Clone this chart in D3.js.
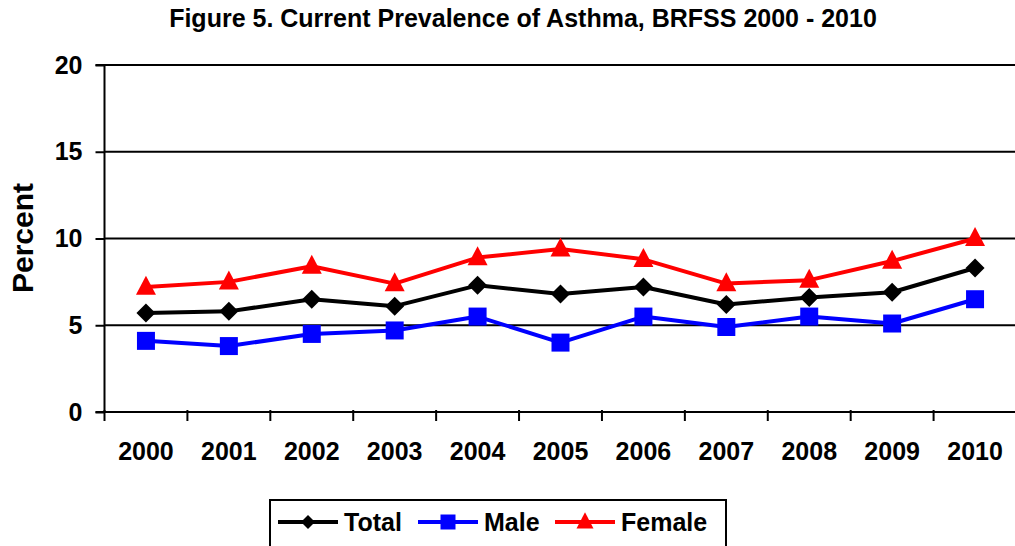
<!DOCTYPE html>
<html><head><meta charset="utf-8">
<script src="https://cdn.jsdelivr.net/npm/d3@7"></script>
<style>body{margin:0;background:#fff}svg{display:block;font-family:"Liberation Sans",Arial,sans-serif;font-weight:bold}</style>
</head><body><svg id="c" width="1015" height="546"></svg>
<script>
const years = ["2000","2001","2002","2003","2004","2005","2006","2007","2008","2009","2010"];
const total = [5.7,5.8,6.5,6.1,7.3,6.8,7.2,6.2,6.6,6.9,8.3];
const male = [4.1,3.8,4.5,4.7,5.5,4.0,5.5,4.9,5.5,5.1,6.5];
const female = [7.2,7.5,8.4,7.4,8.9,9.4,8.8,7.4,7.6,8.7,10.0];
const yTicks = [0,5,10,15,20];
const seriesNames = ["Total","Male","Female"];
const seriesColors = ["#000000","#0000ff","#ff0000"];
const seriesValues = [total, male, female];

// custom marker shapes; "size" here is the marker width in px
const diamond = {draw(ctx, w){const r=w/2; ctx.moveTo(0,-r); ctx.lineTo(r,0); ctx.lineTo(0,r); ctx.lineTo(-r,0); ctx.closePath();}};
const square = {draw(ctx, w){const r=w/2; ctx.rect(-r,-r,w,w);}};
const triangle = {draw(ctx, w){const r=w/2, h=w*0.95; ctx.moveTo(0,-h*0.6); ctx.lineTo(r,h*0.4); ctx.lineTo(-r,h*0.4); ctx.closePath();}};
const seriesShapes = [diamond, square, triangle];
const markerW = [19, 18, 20];
const legendW = [14, 15, 17];

const svg = d3.select("#c");
const L = 104.5, R = 1016.5, T = 65, B = 412;
const x = d3.scaleBand().domain(years).range([L, R]);
const y = d3.scaleLinear().domain([0,20]).range([B, T]);

svg.append("text").attr("x", 523).attr("y", 27).attr("text-anchor","middle")
  .attr("font-size", 25).text("Figure 5. Current Prevalence of Asthma, BRFSS 2000 - 2010");

// gridlines
svg.append("g").selectAll("line").data(yTicks.filter(d=>d>0)).join("line")
  .attr("x1", L).attr("x2", R).attr("y1", d=>y(d)).attr("y2", d=>y(d))
  .attr("stroke","#000").attr("stroke-width",2);

// y axis
const ya = svg.append("g").attr("transform", `translate(${L},0)`)
  .call(d3.axisLeft(y).tickValues(yTicks).tickSize(9).tickPadding(13));
ya.select(".domain").attr("stroke-width",2).attr("d", `M-9,${T}H0V${B}H-9`);
ya.selectAll(".tick line").attr("stroke-width",2);
ya.selectAll(".tick text").attr("font-size",25).attr("font-family","Liberation Sans, Arial").attr("font-weight","bold").attr("fill","#000");

// x axis
const xa = svg.append("g").attr("transform", `translate(0,${B})`)
  .call(d3.axisBottom(x).tickSize(0).tickPadding(30));
xa.select(".domain").attr("stroke-width",2).attr("d", `M${L},0H${R}`);
xa.selectAll(".tick text").attr("font-size",25).attr("font-family","Liberation Sans, Arial").attr("font-weight","bold").attr("fill","#000");
svg.append("g").selectAll("line").data(d3.range(years.length+1)).join("line")
  .attr("x1", i=>L+i*x.step()).attr("x2", i=>L+i*x.step())
  .attr("y1", B-2).attr("y2", B+9).attr("stroke","#000").attr("stroke-width",2);

svg.append("text").attr("transform","translate(33,238) rotate(-90)")
  .attr("text-anchor","middle").attr("font-size",30).text("Percent");

const line = d3.line().x((d,i)=>x(years[i])+x.bandwidth()/2).y(d=>y(d));
seriesValues.forEach((vals, s) => {
  svg.append("path").datum(vals).attr("d", line).attr("fill","none")
    .attr("stroke", seriesColors[s]).attr("stroke-width",4).attr("stroke-linejoin","round");
  svg.append("g").selectAll("path").data(vals).join("path")
    .attr("transform",(d,i)=>`translate(${x(years[i])+x.bandwidth()/2},${y(d)})`)
    .attr("d", d3.symbol().type(seriesShapes[s]).size(markerW[s]))
    .attr("fill", seriesColors[s]);
});

// legend
const lg = svg.append("g");
lg.append("rect").attr("x",270).attr("y",500).attr("width",456).attr("height",52)
  .attr("fill","#fff").attr("stroke","#000").attr("stroke-width",2);
const lx = [278, 418, 555];
seriesNames.forEach((n, s) => {
  const g = lg.append("g").attr("transform",`translate(${lx[s]},522)`);
  g.append("line").attr("x1",0).attr("x2",60).attr("stroke",seriesColors[s]).attr("stroke-width",4);
  g.append("path").attr("transform","translate(30,0)").attr("d", d3.symbol().type(seriesShapes[s]).size(legendW[s])).attr("fill",seriesColors[s]);
  g.append("text").attr("x",66).attr("y",9).attr("font-size",25).text(n);
});
</script></body></html>
